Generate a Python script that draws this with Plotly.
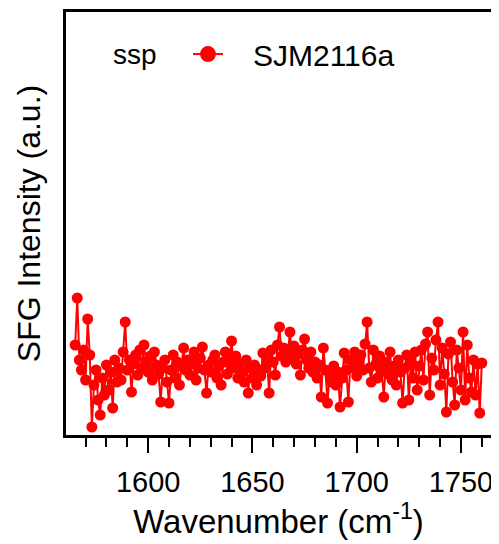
import plotly.graph_objects as go

# SFG spectrum, ssp polarisation, sample SJM2116a
wavenumber_start = 1565
intensity = [
    95, 142, 80, 70, 90, 60, 121, 85, 13, 55,
    70, 40, 25, 62, 45, 75, 50, 68, 32, 80,
    58, 72, 60, 88, 118, 70, 80, 48, 76, 85,
    65, 90, 72, 95, 78, 68, 84, 60, 88, 75,
    66, 38, 72, 80, 58, 37, 70, 85, 62, 78,
    55, 74, 92, 70, 80, 65, 76, 88, 60, 72,
    82, 93, 70, 47, 75, 68, 80, 85, 62, 74,
    55, 78, 88, 66, 80, 99, 72, 84, 62, 76,
    68, 58, 80, 47, 72, 62, 75, 55, 70, 64,
    87, 72, 80, 47, 90, 78, 65, 95, 113, 84,
    92, 78, 88, 108, 82, 94, 76, 86, 65, 90,
    101, 80, 72, 88, 68, 78, 62, 75, 43, 92,
    70, 37, 66, 58, 74, 55, 68, 33, 62, 87,
    70, 38, 80, 72, 88, 64, 78, 85, 70, 96,
    118, 72, 58, 90, 75, 62, 84, 70, 43, 78,
    66, 88, 60, 74, 55, 80, 68, 37, 72, 85,
    40, 78, 62, 88, 50, 74, 90, 60, 96, 108,
    45, 82, 70, 100, 118, 55, 92, 66, 28, 86,
    98, 58, 35, 90, 72, 50, 108, 40, 95, 62,
    48, 80, 45, 76, 27, 77,
]
wavenumber = [wavenumber_start + i for i in range(len(intensity))]

x_ticks = [1600, 1650, 1700, 1750]
polarisation = 'ssp'
sample = 'SJM2116a'

red = 'rgb(255,0,0)'
font = 'Arial, Liberation Sans, sans-serif'

fig = go.Figure()

fig.add_trace(go.Scatter(
    x=wavenumber, y=intensity,
    mode='lines+markers',
    line=dict(color=red, width=2),
    marker=dict(color=red, size=11),
    showlegend=False,
))

# legend-only entry with a larger symbol, as in the original
fig.add_trace(go.Scatter(
    x=[None], y=[None],
    mode='lines+markers',
    name='\u00a0\u00a0\u00a0' + sample,
    line=dict(color=red, width=2),
    marker=dict(color=red, size=17),
))

fig.update_xaxes(
    range=[1560.6, 1764.4],
    tickvals=x_ticks,
    ticks='outside', ticklen=15, tickwidth=2, tickcolor='black',
    ticklabelstandoff=4,
    minor=dict(dtick=10, ticks='outside', ticklen=9, tickwidth=2, tickcolor='black'),
    showline=True, linecolor='black', linewidth=3, mirror=True,
    showgrid=False, zeroline=False, automargin=False,
    tickfont=dict(family=font, size=29, color='black'),
    title=dict(text='Wavenumber (cm<sup>-1</sup>)', standoff=8,
               font=dict(family=font, size=33, color='black')),
)
fig.update_yaxes(
    range=[5, 428],
    showticklabels=False, ticks='',
    showline=True, linecolor='black', linewidth=3, mirror=True,
    showgrid=False, zeroline=False, automargin=False,
    title=dict(text='SFG Intensity (a.u.)', standoff=13,
               font=dict(family=font, size=32, color='black')),
)

# page body adds an 8px offset, so the figure is sized to fit inside it
fig.update_layout(
    width=491, height=536,
    margin=dict(l=58, r=8, t=4, b=109),
    plot_bgcolor='white', paper_bgcolor='white',
    font=dict(family=font, color='black'),
    legend=dict(
        title=dict(text=polarisation + '   ', side='left', font=dict(family=font, size=28)),
        font=dict(family=font, size=30),
        x=0.106, y=0.962, xanchor='left', yanchor='top',
        bgcolor='rgba(0,0,0,0)',
    ),
)

fig.write_html('out.html')
